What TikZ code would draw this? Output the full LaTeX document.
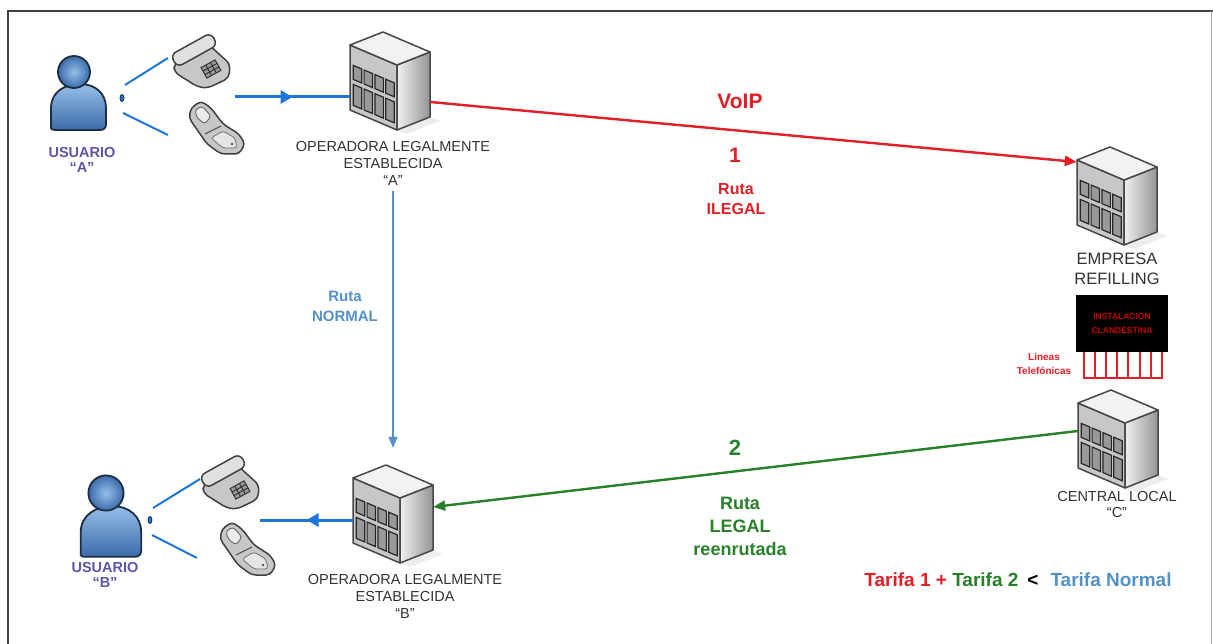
\documentclass[tikz,border=0pt]{standalone}
\usepackage{fontspec}
\setmainfont{Liberation Sans}
\usetikzlibrary{arrows.meta,decorations.markings,shapes.geometric}

\definecolor{ilegalred}{RGB}{228,30,38}
\definecolor{legalgreen}{RGB}{40,128,40}
\definecolor{normalblue}{RGB}{82,146,200}
\definecolor{telblue}{RGB}{30,118,220}
\definecolor{usrtext}{RGB}{92,86,168}
\definecolor{lbltext}{RGB}{50,50,50}
\definecolor{usrhi}{RGB}{150,190,232}
\definecolor{usrlo}{RGB}{58,108,170}
\definecolor{usrline}{RGB}{30,45,65}
\definecolor{clanred}{RGB}{200,0,0}

\tikzset{
  icon/.style={inner sep=0pt, minimum size=1pt},
  bldg/.style={inner sep=0pt, minimum width=80pt, minimum height=100pt},
  telgroup/.style={inner sep=0pt, minimum width=60pt, minimum height=120pt},
  tdot/.style={ellipse, draw=usrline, fill=telblue, line width=0.8pt, inner sep=0pt, minimum width=4pt, minimum height=7pt},
  bldgline/.style={draw=black!72, line width=1.5pt, line join=round},
  phone/.style={draw=black!75, line width=1.5pt, fill=black!22, line join=round},
  bldglbl/.style={font=\fontsize{14.5}{17}\selectfont, text=lbltext, align=center, inner sep=0pt, anchor=north},
  usrlbl/.style={font=\fontsize{14.5}{15}\selectfont\bfseries, text=usrtext, align=center, inner sep=0pt, anchor=north},
  telline/.style={telblue, line width=3pt},
  userline/.style={telblue, line width=2pt},
  midarrow/.style={postaction={decorate}, decoration={markings, mark=at position 0.5 with {\arrow{Triangle[length=12pt,width=13pt]}}}},
  ilegalline/.style={ilegalred, line width=2.4pt, -{Triangle[length=12pt,width=10pt]}},
  legalline/.style={legalgreen, line width=2.4pt, -{Triangle[length=12pt,width=10pt]}},
  normalline/.style={normalblue, line width=1.8pt, -{Triangle[length=11pt,width=9pt]}},
  combline/.style={ilegalred, line width=2pt},
  pics/building/.style={code={
    \fill[black!7] (7,49) -- (40,36) -- (50,40) -- (17,53) -- cycle;
    \path[bldgline, fill=black!22] (-40,-36) -- (7,-16) -- (7,49) -- (-40,29) -- cycle;
    \path[bldgline, left color=black!6, right color=black!42] (7,-16) -- (40,-29) -- (40,36) -- (7,49) -- cycle;
    \path[bldgline, fill=black!5] (-40,-36) -- (-7,-49) -- (40,-29) -- (7,-16) -- cycle;
    % two rows of windows on the front face
    \foreach \u in {0.07,0.30,0.53,0.76}{
      \path[draw=black!85, fill=black!40, line width=1.2pt]
        ({-40+47*\u},{-17+20*\u}) -- ({-40+47*(\u+0.18)},{-17+20*(\u+0.18)})
        -- ({-40+47*(\u+0.18)},{-3+20*(\u+0.18)}) -- ({-40+47*\u},{-3+20*\u}) -- cycle;
      \path[draw=black!85, fill=black!40, line width=1.2pt]
        ({-40+47*\u},{2+20*\u}) -- ({-40+47*(\u+0.18)},{2+20*(\u+0.18)})
        -- ({-40+47*(\u+0.18)},{23+20*(\u+0.18)}) -- ({-40+47*\u},{23+20*\u}) -- cycle;
    }
  }},
  pics/deskphone/.style={code={
    \path[phone, rounded corners=5pt] (-28,2) -- (6,-18) -- (28,2) -- (27,16) -- (6,26) -- (-4,25) -- (-28,10) -- cycle;
    \path[phone, fill=black!12, shift={(-8,-12)}, rotate=29, rounded corners=6pt] (-23,-7) rectangle (23,7);
    \begin{scope}[shift={(9,7)}, rotate=29]
      \path[draw=black!80, fill=black!40, line width=1pt] (-8,-6) rectangle (8,6);
      \draw[black!85, line width=0.8pt] (-8,-2) -- (8,-2) (-8,2) -- (8,2) (-2.7,-6) -- (-2.7,6) (2.7,-6) -- (2.7,6);
    \end{scope}
  }},
  pics/mobile/.style={code={
    \path[phone, rounded corners=4pt] (-24,-22) -- (-14,-29) -- (-4,-22) -- (8,-6) -- (24,4) -- (30,14) -- (24,24) -- (6,24) -- (-8,14) -- (-26,-12) -- cycle;
    \path[draw=black!60, fill=black!8, line width=0.9pt, rounded corners=3pt] (-20,-20) -- (-13,-24) -- (-4,-14) -- (-10,-6) -- (-18,-12) -- cycle;
    \draw[black!70, line width=1pt] (-10,4) .. controls (-2,0) .. (6,-4);
    \path[draw=black!55, fill=black!10, line width=0.8pt, rounded corners=3pt] (-4,8) -- (8,1) -- (20,8) -- (22,18) -- (8,18) -- cycle;
    \fill[black!70] (17,14) circle (1.3pt);
  }},
  pics/user/.style={code={
    \path[draw=usrline, line width=1.8pt, top color=usrhi, bottom color=usrlo] (-23,56) -- (-23,36) .. controls (-23,19) and (-8,12) .. (6,12) .. controls (21,12) and (32,21) .. (32,36) -- (32,52) .. controls (32,56) and (30,58) .. (26,58) -- (-19,58) .. controls (-22,58) and (-23,57) .. cycle;
    \path[draw=usrline, line width=1.8pt, inner color=usrhi, outer color=usrlo] (0,0) circle (16pt);
  }}
}

\begin{document}
\begin{tikzpicture}[x=1pt,y=-1pt]
\useasboundingbox (0,0) rectangle (1213,644);
\fill[white] (0,0) rectangle (1213,644);
\draw[black!75, line width=1.6pt] (8,650) -- (8,11) -- (1213,11);
\draw[black!35, line width=1pt] (1211,11) -- (1211,650);

% users and their phones
\node[icon] (usrA) at (74,72) {};
\node[icon] (usrB) at (106,493) {};
\pic at (usrA) {user};
\pic[scale=1.1] at (usrB) {user};
\node[usrlbl] (usrAlbl) at (82,147) {USUARIO\\“A”};
\node[usrlbl] (usrBlbl) at (105,562) {USUARIO\\“B”};

\node[icon] (deskA) at (202,62) {};
\node[icon] (mobA) at (215,130) {};
\node[icon] (deskB) at (231,483) {};
\node[icon] (mobB) at (246,551) {};
\foreach \n in {deskA,deskB} \pic at (\n) {deskphone};
\foreach \n in {mobA,mobB} \pic at (\n) {mobile};
\node[telgroup] (telA) at (205,97) {};
\node[telgroup] (telB) at (230,520) {};

\node[tdot] (dotA) at (122,98) {};
\node[tdot] (dotB) at (150,520) {};
\draw[userline] ([shift={(3pt,13pt)}]dotA.center) -- ([shift={(-34pt,4pt)}]deskA.center);
\draw[userline] ([shift={(1pt,-15pt)}]dotA.center) -- ([shift={(-47pt,-5pt)}]mobA.center);
\draw[userline] ([shift={(3pt,12pt)}]dotB.center) -- ([shift={(-31pt,4pt)}]deskB.center);
\draw[userline] ([shift={(2pt,-15pt)}]dotB.center) -- ([shift={(-49pt,-7pt)}]mobB.center);

% exchanges
\node[bldg] (opA) at (390,81) {};
\node[bldg] (opB) at (393,514) {};
\node[bldg] (refill) at (1117,196) {};
\node[bldg] (central) at (1118,439) {};
\foreach \n in {opA,opB,refill,central} \pic at (\n) {building};

\node[bldglbl] (opAlbl) at (393,141) {OPERADORA LEGALMENTE\\ESTABLECIDA\\“A”};
\node[bldglbl] (opBlbl) at (405,574) {OPERADORA LEGALMENTE\\ESTABLECIDA\\“B”};
\node[bldglbl, font=\fontsize{16.5}{20}\selectfont] (refilllbl) at (1117,253) {EMPRESA\\REFILLING};
\node[bldglbl, font=\fontsize{14.5}{16}\selectfont] (centrallbl) at (1117,491) {CENTRAL LOCAL\\“C”};

% clandestine box with its lines
\node[fill=black, minimum width=92pt, minimum height=57pt, inner sep=0pt, align=center,
      text=clanred, font=\fontsize{8.5}{14}\selectfont\bfseries] (clan) at (1122,323.5) {INSTALACION\\CLANDESTINA};
\foreach \k in {0,...,7}
  \draw[combline] ([xshift={8+11.14*\k}]clan.south west) -- ++(0,26);
\draw[combline] ([xshift=7pt,yshift=-26pt]clan.south west) -- ([xshift=87pt,yshift=-26pt]clan.south west);
\node[align=center, inner sep=0pt, text=ilegalred, font=\fontsize{10}{14}\selectfont\bfseries] (lineas) at (1044,364) {Lineas\\Telefónicas};

% routes
\draw[telline, midarrow] (telA.east) -- (telA.east -| opA.west);
\draw[telline, midarrow] ([yshift=-6pt]opB.west) -- (telB.east);
\draw[ilegalline] ([yshift=-21pt]opA.east) -- ([yshift=34pt]refill.west);
\draw[legalline] ([yshift=8pt]central.west) -- ([yshift=7pt]opB.east);
\draw[normalline, shorten <=5pt] (opAlbl.south) -- ([yshift=16pt]opB.north);

\node[text=ilegalred, font=\fontsize{21}{24}\selectfont\bfseries] (voip) at (740,101) {VoIP};
\node[text=ilegalred, font=\fontsize{21}{24}\selectfont\bfseries] (uno) at (735,155) {1};
\node[text=ilegalred, font=\fontsize{16}{20}\selectfont\bfseries, align=center, inner sep=0pt, anchor=north] (ilegal) at (736,183) {Ruta\\ILEGAL};
\node[text=legalgreen, font=\fontsize{22}{24}\selectfont\bfseries] (dos) at (735,448) {2};
\node[text=legalgreen, font=\fontsize{18}{23}\selectfont\bfseries, align=center, inner sep=0pt, anchor=north] (legal) at (740,497) {Ruta\\LEGAL\\reenrutada};
\node[text=normalblue, font=\fontsize{15}{20}\selectfont\bfseries, align=center, inner sep=0pt, anchor=north] (normal) at (345,291) {Ruta\\NORMAL};

\node[font=\fontsize{19}{23}\selectfont\bfseries, inner sep=0pt] (tarifas) at (1018,580)
  {\textcolor{ilegalred}{Tarifa 1 +} \textcolor{legalgreen}{Tarifa 2}\hspace{9pt}<\hspace{12pt}\textcolor{normalblue}{Tarifa Normal}};
\end{tikzpicture}
\end{document}
